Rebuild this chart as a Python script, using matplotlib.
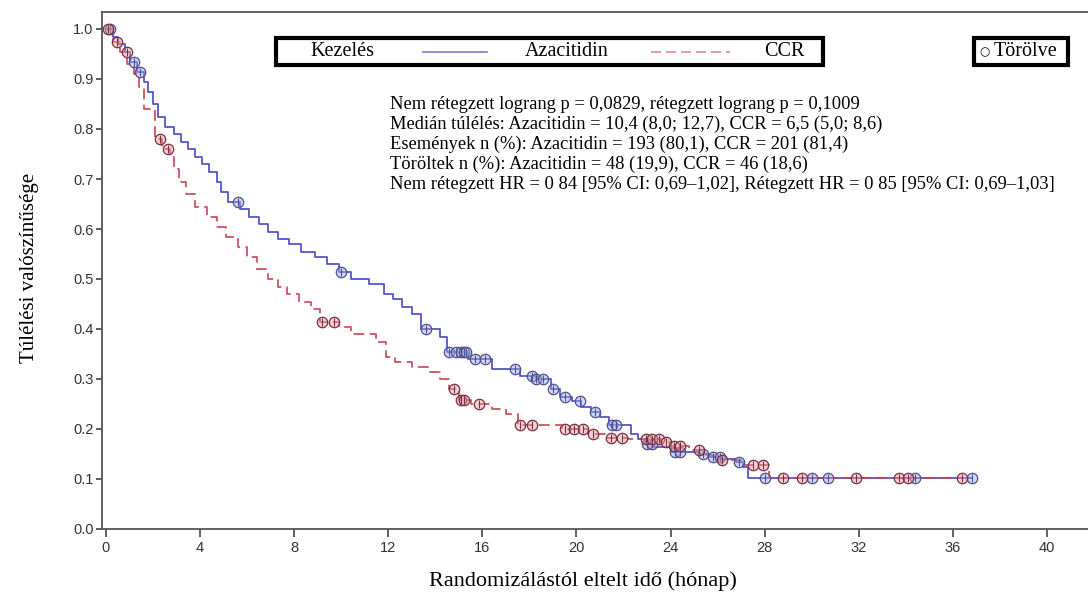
"""
Kaplan-Meier túlélési görbék: Azacitidin vs CCR
"""

import numpy as np
import matplotlib.pyplot as plt
from matplotlib.patches import Rectangle
from matplotlib.lines import Line2D

# --- adatok ---
aza_t = [0, 0.3, 0.5, 0.8, 1.0, 1.3, 1.6, 1.8, 2.0, 2.2, 2.5, 2.9, 3.2, 3.5, 3.8, 4.1,
         4.4, 4.7, 4.9, 5.2, 5.7, 6.1, 6.5, 6.9, 7.3, 7.8, 8.3, 8.9, 9.4, 9.9, 10.4,
         11.2, 11.8, 12.2, 12.6, 13.0, 13.4, 14.2, 14.5, 15.4, 16.4, 17.6, 18.3,
         18.9, 19.3, 19.8, 20.2, 20.6, 21.0, 21.4, 22.3, 22.6, 22.9, 23.3, 24.0,
         25.2, 25.6, 26.2, 26.8, 27.1, 27.3, 36.8]
aza_s = [1.0, 0.985, 0.97, 0.955, 0.935, 0.915, 0.895, 0.875, 0.85, 0.825, 0.805,
         0.79, 0.775, 0.76, 0.745, 0.73, 0.715, 0.695, 0.675, 0.655, 0.64, 0.625,
         0.61, 0.595, 0.58, 0.57, 0.555, 0.545, 0.53, 0.515, 0.5, 0.49, 0.47, 0.46,
         0.445, 0.43, 0.40, 0.385, 0.355, 0.34, 0.32, 0.306, 0.30, 0.28, 0.265,
         0.256, 0.245, 0.235, 0.225, 0.208, 0.19, 0.18, 0.17, 0.165, 0.155, 0.15,
         0.145, 0.14, 0.135, 0.125, 0.103, 0.103]
aza_cens = [0.15, 1.2, 1.45, 5.6, 10.0, 13.6, 14.6, 14.9, 15.1, 15.2, 15.3, 15.7,
            16.1, 17.4, 18.1, 18.3, 18.6, 19.0, 19.5, 20.15, 20.8, 21.5, 21.7,
            23.0, 23.2, 24.2, 24.4, 25.4, 25.8, 26.1, 26.9, 28.0, 30.0, 30.7,
            34.4, 36.8]

ccr_t = [0, 0.3, 0.6, 0.9, 1.2, 1.4, 1.6, 2.1, 2.4, 2.7, 2.9, 3.1, 3.4, 3.8, 4.3,
         4.7, 5.1, 5.6, 6.0, 6.4, 6.9, 7.3, 7.7, 8.2, 8.7, 9.1, 9.9, 10.4, 11.5,
         11.9, 12.3, 13.0, 13.7, 14.2, 14.6, 15.0, 15.5, 16.4, 17.0, 17.5, 19.4,
         20.5, 21.2, 22.2, 23.6, 24.0, 24.8, 25.5, 26.0, 27.0, 28.2, 36.4]
ccr_s = [1.0, 0.975, 0.955, 0.93, 0.91, 0.885, 0.84, 0.78, 0.76, 0.745, 0.72,
         0.695, 0.67, 0.645, 0.625, 0.605, 0.585, 0.565, 0.545, 0.52, 0.5, 0.485,
         0.47, 0.455, 0.44, 0.415, 0.405, 0.39, 0.375, 0.345, 0.335, 0.325, 0.315,
         0.3, 0.28, 0.258, 0.25, 0.24, 0.23, 0.208, 0.2, 0.19, 0.183, 0.18, 0.175,
         0.166, 0.158, 0.148, 0.138, 0.128, 0.103, 0.103]
ccr_cens = [0.1, 0.45, 0.88, 2.3, 2.65, 9.2, 9.7, 14.8, 15.1, 15.2, 15.85, 17.6,
            18.1, 19.5, 19.9, 20.3, 20.7, 21.45, 21.95, 22.95, 23.2, 23.5, 23.8,
            24.15, 24.4, 25.2, 26.2, 27.5, 27.95, 28.8, 29.6, 31.9, 33.7, 34.1, 36.4]

x_ticks = [0, 4, 8, 12, 16, 20, 24, 28, 32, 36, 40]
y_ticks = [0.0, 0.1, 0.2, 0.3, 0.4, 0.5, 0.6, 0.7, 0.8, 0.9, 1.0]

stat_lines = [
    "Nem rétegzett lograng p = 0,0829, rétegzett lograng p = 0,1009",
    "Medián túlélés: Azacitidin = 10,4 (8,0; 12,7), CCR = 6,5 (5,0; 8,6)",
    "Események n (%): Azacitidin = 193 (80,1), CCR = 201 (81,4)",
    "Töröltek n (%): Azacitidin = 48 (19,9), CCR = 46 (18,6)",
    "Nem rétegzett HR = 0 84 [95% CI: 0,69–1,02], Rétegzett HR = 0 85 [95% CI: 0,69–1,03]",
]

BLUE = '#4343c4'
RED = '#c8414f'
SERIF = 'Liberation Serif'


def step_value(t, s, x):
    idx = np.searchsorted(t, x, side='right') - 1
    return np.asarray(s)[idx]


W, H = 1088, 593
fig = plt.figure(figsize=(W / 100, H / 100), dpi=100)
ax = fig.add_axes([102 / W, 1 - 529 / H, (W - 102) / W, (529 - 12) / H])

ax.plot(aza_t, aza_s, drawstyle='steps-post', color=BLUE, lw=1.3, alpha=0.9)
ax.plot(ccr_t, ccr_s, drawstyle='steps-post', color=RED, lw=1.3,
        dashes=(6, 3), alpha=0.9)

# törölt (cenzorált) jelölések
for ct, cs, fc, ec in [(aza_cens, step_value(aza_t, aza_s, aza_cens),
                        (0.6, 0.65, 0.9, 0.45), '#50508a'),
                       (ccr_cens, step_value(ccr_t, ccr_s, ccr_cens),
                        (0.88, 0.6, 0.64, 0.45), '#7a3040')]:
    ax.plot(ct, cs, ls='none', marker='o', ms=7.5, mfc=fc, mec=ec, mew=0.9)
    ax.plot(ct, cs, ls='none', marker='|', ms=5.5, mec=ec, mew=0.8)

ax.set_xlim(-0.17, 41.75)
ax.set_ylim(0, 1.034)
ax.set_xticks(x_ticks)
ax.set_yticks(y_ticks)
ax.set_yticklabels([f'{v:.1f}' for v in y_ticks])
ax.tick_params(direction='out', width=1.2, color='#444', labelcolor='#333',
               labelsize=10.5)
ax.tick_params(axis='x', length=6, pad=3)
ax.tick_params(axis='y', length=4, pad=2)
for lab in ax.get_xticklabels() + ax.get_yticklabels():
    lab.set_family('Liberation Sans')
ax.spines['right'].set_visible(False)
for sp in ['left', 'bottom', 'top']:
    ax.spines[sp].set_color('#555')
    ax.spines[sp].set_linewidth(1.3)

ax.set_xlabel('Randomizálástól eltelt idő (hónap)', family=SERIF, fontsize=16)
ax.xaxis.set_label_coords(0.488, -0.082)
ax.set_ylabel('Túlélési valószínűsége', family=SERIF, fontsize=15)
ax.yaxis.set_label_coords(-0.064, 0.505)

# statisztikai szöveg
for i, line in enumerate(stat_lines):
    fig.text(390 / W, 1 - (108.7 + i * 20) / H, line, family=SERIF,
             fontsize=13.3, va='baseline', ha='left')


# jelmagyarázat dobozok
def px_rect(x0, y0, x1, y1):
    fig.patches.append(Rectangle((x0 / W, 1 - y1 / H), (x1 - x0) / W, (y1 - y0) / H,
                                 transform=fig.transFigure, fill=False,
                                 ec='black', lw=3, zorder=5))


px_rect(276, 38, 823, 65)
px_rect(974, 38, 1068, 65)
ly = 1 - 52 / H
fig.text(342 / W, ly, 'Kezelés', family=SERIF, fontsize=14.5, ha='center', va='center')
fig.lines.append(Line2D([423 / W, 487 / W], [ly, ly], transform=fig.transFigure,
                        color=BLUE, lw=1.2, alpha=0.7))
fig.text(567 / W, ly, 'Azacitidin', family=SERIF, fontsize=14.5, ha='center', va='center')
fig.lines.append(Line2D([651 / W, 730 / W], [ly, ly], transform=fig.transFigure,
                        color=RED, lw=1.2, dashes=(6, 3), alpha=0.6))
fig.text(784 / W, ly, 'CCR', family=SERIF, fontsize=14.5, ha='center', va='center')
fig.text(985 / W, ly, '○', family='DejaVu Sans', fontsize=8.5,
         ha='center', va='center')
fig.text(994 / W, ly, 'Törölve', family=SERIF, fontsize=14.5,
         ha='left', va='center')

fig.savefig('out.png', dpi=100)
